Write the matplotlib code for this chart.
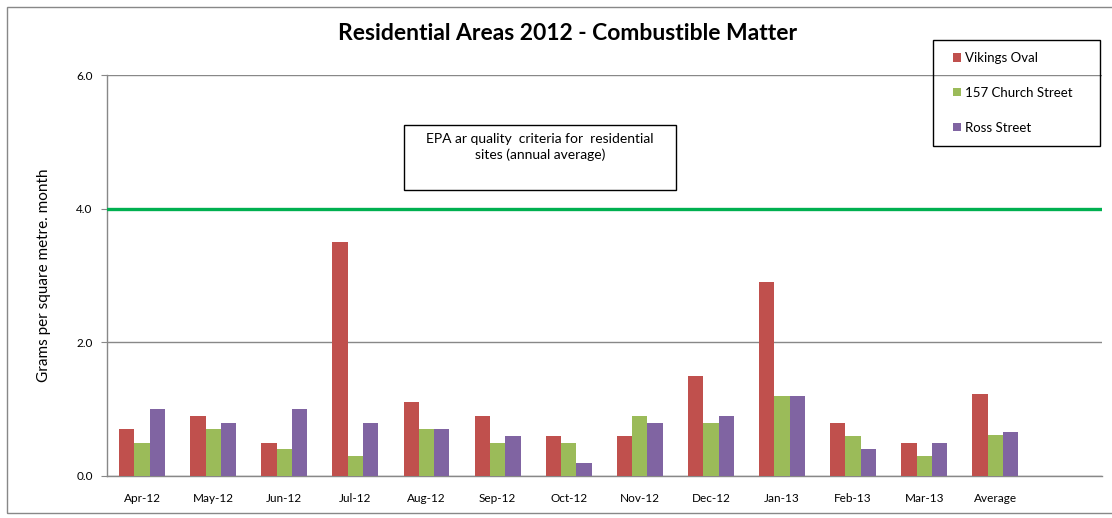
import numpy as np
import matplotlib
matplotlib.use("Agg")
import matplotlib.pyplot as plt
from matplotlib.patches import Rectangle

# data
months = ["Apr-12", "May-12", "Jun-12", "Jul-12", "Aug-12", "Sep-12", "Oct-12",
          "Nov-12", "Dec-12", "Jan-13", "Feb-13", "Mar-13", "Average", ""]
vikings_oval = [0.7, 0.9, 0.5, 3.5, 1.1, 0.9, 0.6, 0.6, 1.5, 2.9, 0.8, 0.5, 1.22]
church_street = [0.5, 0.7, 0.4, 0.3, 0.7, 0.5, 0.5, 0.9, 0.8, 1.2, 0.6, 0.3, 0.62]
ross_street = [1.0, 0.8, 1.0, 0.8, 0.7, 0.6, 0.2, 0.8, 0.9, 1.2, 0.4, 0.5, 0.66]
series_names = ["Vikings Oval", "157 Church Street", "Ross Street"]
epa_limit = 4.0

plt.rcParams["font.family"] = ["Lato", "DejaVu Sans"]

W, H = 1112, 518
fig = plt.figure(figsize=(W / 100, H / 100), dpi=100)
ax = fig.add_axes([0.0958, 0.0811, 0.8952, 0.7739])

colors = ["#C0504D", "#9BBB59", "#8064A2"]
x = np.arange(len(vikings_oval))
w = 0.215
for k, (vals, name) in enumerate(zip([vikings_oval, church_street, ross_street], series_names)):
    ax.bar(x + (k - 1) * w, vals, w, color=colors[k], label=name, zorder=3)

ax.axhline(epa_limit, color="#00B050", linewidth=2.4, zorder=4)

ax.set_xlim(-0.5, len(months) - 0.5)
ax.set_ylim(0, 6)
ax.set_xticks(range(len(months)))
ax.set_xticklabels(months, fontsize=8.5)
ax.set_yticks([0, 2, 4, 6])
ax.set_yticklabels(["0.0", "2.0", "4.0", "6.0"], fontsize=8.5)
ax.tick_params(axis="x", length=0, pad=12)
ax.tick_params(axis="y", length=4, color="#888888", pad=6)
ax.yaxis.grid(True, color="#888888", linewidth=1.0, zorder=0)
for side in ["top", "right"]:
    ax.spines[side].set_visible(False)
for side in ["left", "bottom"]:
    ax.spines[side].set_color("#888888")
    ax.spines[side].set_linewidth(1.0)

ax.set_ylabel("Grams per square metre. month", fontsize=11)
ax.yaxis.set_label_coords(-0.0555, 0.5)

fig.text(0.51, 0.935, "Residential Areas 2012 - Combustible Matter",
         ha="center", va="center", fontsize=16.5, fontweight="bold")

# annotation box for the EPA line
fig.patches.append(Rectangle((404 / W, 1 - 190 / H), 272 / W, 65 / H,
                             transform=fig.transFigure, fill=False,
                             edgecolor="black", linewidth=1.0))
fig.text(540 / W, 1 - 139 / H, "EPA ar quality  criteria for  residential",
         ha="center", va="center", fontsize=10)
fig.text(540 / W, 1 - 155 / H, "sites (annual average)",
         ha="center", va="center", fontsize=10)

# legend: frameless entries inside a hand-drawn box
leg = ax.legend(loc="upper left", bbox_to_anchor=(953 / W, 1 - 52 / H),
                bbox_transform=fig.transFigure, fontsize=9.5, frameon=False,
                handlelength=0.6, handleheight=0.6, handletextpad=0.3,
                labelspacing=1.74, borderpad=0, borderaxespad=0)
fig.patches.append(Rectangle((933 / W, 1 - 146 / H), 167 / W, 106 / H,
                             transform=fig.transFigure, fill=False,
                             edgecolor="black", linewidth=1.0))

# outer chart border
fig.patches.append(Rectangle((7 / W, 5 / H), 1110 / W, 506 / H,
                             transform=fig.transFigure, fill=False,
                             edgecolor="#888888", linewidth=1.0))

fig.savefig("out.png", dpi=100)
